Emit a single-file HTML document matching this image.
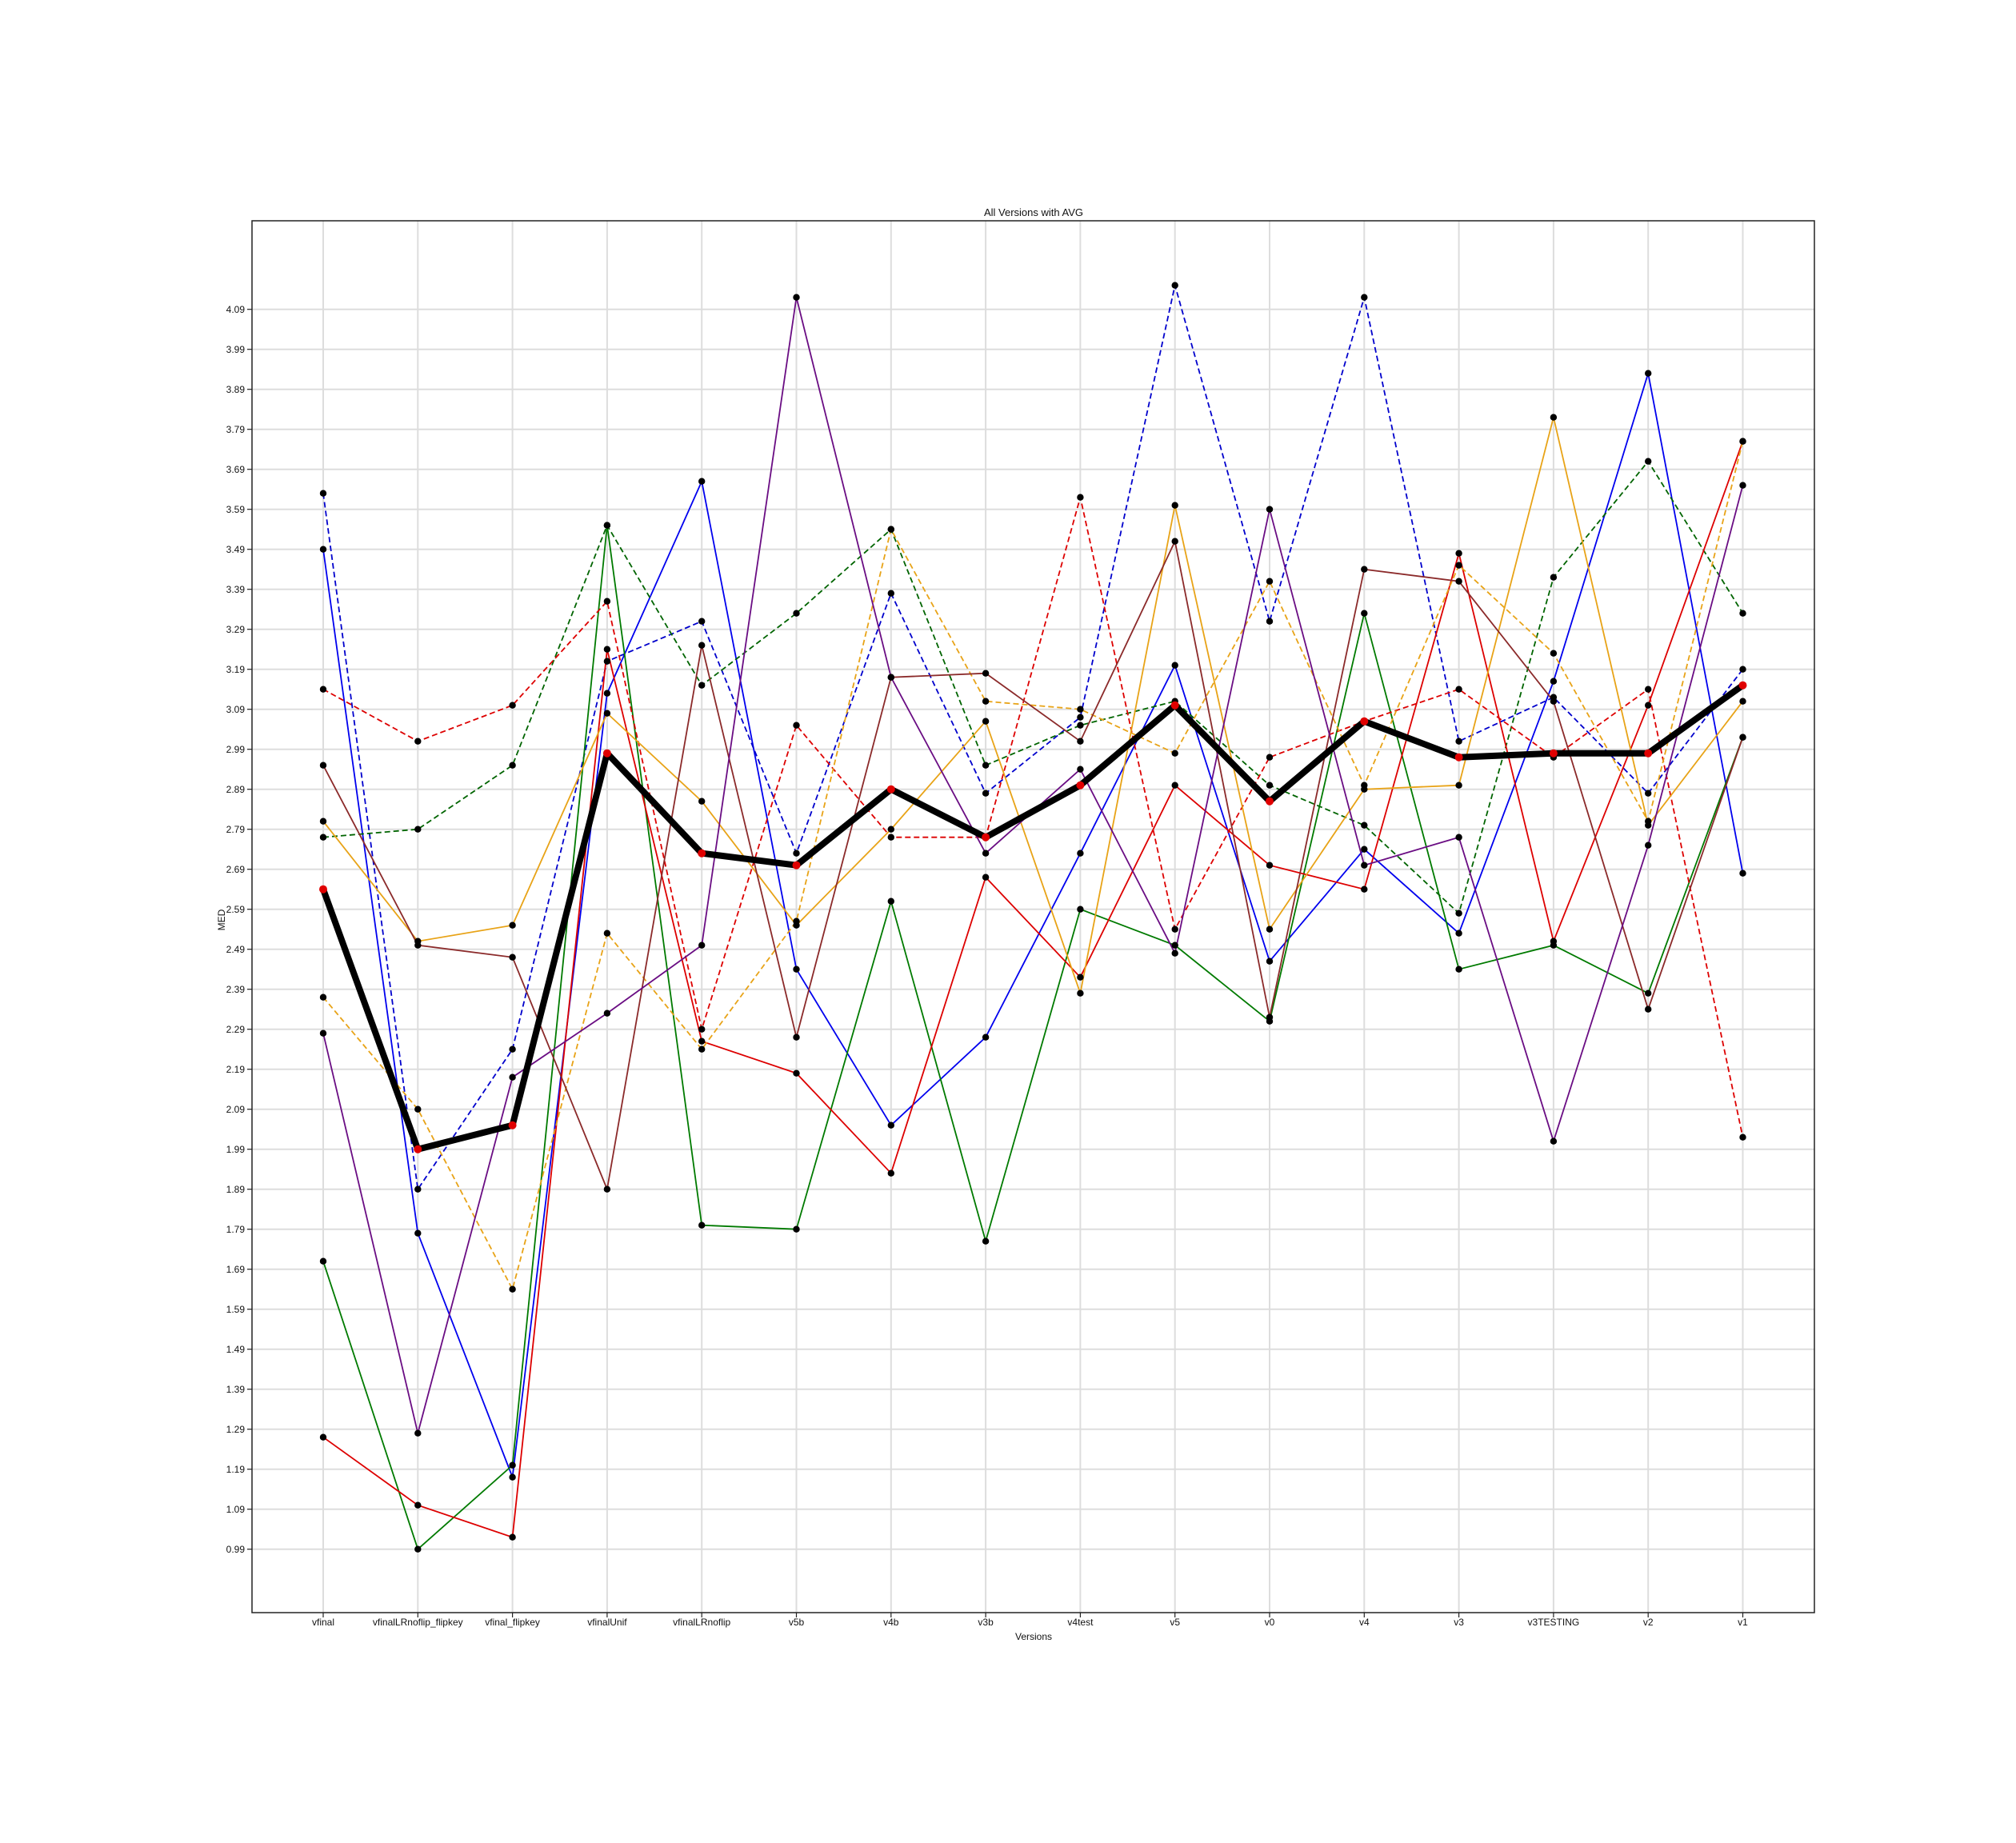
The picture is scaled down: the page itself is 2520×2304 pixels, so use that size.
<!DOCTYPE html>
<html><head><meta charset="utf-8"><style>
html,body{margin:0;padding:0;background:#fff;}
svg{display:block;font-family:"Liberation Sans","DejaVu Sans",sans-serif;}
</style></head><body>
<svg id="chart" width="2520" height="2304" viewBox="0 0 2520 2304" xmlns="http://www.w3.org/2000/svg">
<rect width="2520" height="2304" fill="#fff"/>
<g id="grid"></g>
<g id="series"></g>
<rect x="315" y="276" width="1953" height="1740" fill="none" stroke="#222" stroke-width="1.5"/>
<g id="ticks"></g>
<text x="1292" y="270" font-size="13" text-anchor="middle" fill="#111">All Versions with AVG</text>
<text x="1292" y="2050" font-size="12" text-anchor="middle" fill="#111">Versions</text>
<text x="281" y="1150" font-size="12" text-anchor="middle" fill="#111" transform="rotate(-90 281 1150)">MED</text>
</svg>
<script>
const categories=["vfinal","vfinalLRnoflip_flipkey","vfinal_flipkey","vfinalUnif","vfinalLRnoflip","v5b","v4b","v3b","v4test","v5","v0","v4","v3","v3TESTING","v2","v1"];
const yTicks=[0.99,1.09,1.19,1.29,1.39,1.49,1.59,1.69,1.79,1.89,1.99,2.09,2.19,2.29,2.39,2.49,2.59,2.69,2.79,2.89,2.99,3.09,3.19,3.29,3.39,3.49,3.59,3.69,3.79,3.89,3.99,4.09];
const blueSolid=[3.49,1.78,1.17,3.13,3.66,2.44,2.05,2.27,2.73,3.20,2.46,2.74,2.53,3.16,3.93,2.68];
const blueDashed=[3.63,1.89,2.24,3.21,3.31,2.73,3.38,2.88,3.07,4.15,3.31,4.12,3.01,3.12,2.88,3.19];
const greenSolid=[1.71,0.99,1.20,3.55,1.80,1.79,2.61,1.76,2.59,2.50,2.31,3.33,2.44,2.50,2.38,3.02];
const greenDashed=[2.77,2.79,2.95,3.55,3.15,3.33,3.54,2.95,3.05,3.11,2.90,2.80,2.58,3.42,3.71,3.33];
const redSolid=[1.27,1.10,1.02,3.24,2.26,2.18,1.93,2.67,2.42,2.90,2.70,2.64,3.48,2.51,3.10,3.76];
const redDashed=[3.14,3.01,3.10,3.36,2.29,3.05,2.77,2.77,3.62,2.54,2.97,3.06,3.14,2.97,3.14,2.02];
const orangeSolid=[2.81,2.51,2.55,3.08,2.86,2.55,2.79,3.06,2.38,3.60,2.54,2.89,2.90,3.82,2.80,3.11];
const orangeDashed=[2.37,2.09,1.64,2.53,2.24,2.56,3.54,3.11,3.09,2.98,3.41,2.90,3.45,3.23,2.81,3.76];
const brownSolid=[2.95,2.50,2.47,1.89,3.25,2.27,3.17,3.18,3.01,3.51,2.32,3.44,3.41,3.11,2.34,3.02];
const purpleSolid=[2.28,1.28,2.17,2.33,2.50,4.12,3.17,2.73,2.94,2.48,3.59,2.70,2.77,2.01,2.75,3.65];
const avgValues=[2.64,1.99,2.05,2.98,2.73,2.70,2.89,2.77,2.90,3.10,2.86,3.06,2.97,2.98,2.98,3.15];

const NS="http://www.w3.org/2000/svg";
const X0=404,STEP=118.3,YREF=386.7,PX=500;
function xs(i){return X0+i*STEP;}
function ys(v){return YREF+(4.09-v)*PX;}
function mk(tag,attrs,parent){const e=document.createElementNS(NS,tag);for(const k in attrs)e.setAttribute(k,attrs[k]);parent.appendChild(e);return e;}
const grid=document.getElementById('grid'),ticks=document.getElementById('ticks'),ser=document.getElementById('series');
yTicks.forEach(v=>{
  const y=ys(v);
  const g=mk('line',{x1:315,x2:2268,y1:y,y2:y,stroke:'#ddd','stroke-width':2},grid);
  
  
  const t=mk('line',{x1:309,x2:315,y1:y,y2:y,stroke:'#222','stroke-width':1.2},ticks);
  
  
  const l=mk('text',{x:306,y:y+4.5,'font-size':12,'text-anchor':'end',fill:'#111'},ticks);
  l.textContent=v.toFixed(2);
  
  
});
categories.forEach((c,i)=>{
  const x=xs(i);
  const g=mk('line',{x1:x,x2:x,y1:276,y2:2016,stroke:'#ddd','stroke-width':2},grid);
  
  
  const t=mk('line',{x1:x,x2:x,y1:2016,y2:2022,stroke:'#222','stroke-width':1.2},ticks);
  
  
  const l=mk('text',{x:x,y:2032,'font-size':12,'text-anchor':'middle',fill:'#111'},ticks);
  l.textContent=c;
  
  
});
const seriesList=[
 [blueSolid,'#0000ee',false,'blue-solid-series'],
 [blueDashed,'#0000cc',true,'blue-dashed-series'],
 [greenSolid,'#007a00',false,'green-solid-series'],
 [greenDashed,'#006400',true,'green-dashed-series'],
 [redSolid,'#dd0000',false,'red-solid-series'],
 [redDashed,'#dd0000',true,'red-dashed-series'],
 [orangeSolid,'#e8a317',false,'orange-solid-series'],
 [orangeDashed,'#e8a317',true,'orange-dashed-series'],
 [brownSolid,'#8b2a2a',false,'brown-solid-series'],
 [purpleSolid,'#6a0d83',false,'purple-solid-series']
];
seriesList.forEach(s=>{
  const pts=s[0].map((v,i)=>xs(i)+','+ys(v)).join(' ');
  const attrs={points:pts,fill:'none',stroke:s[1],'stroke-width':1.8};
  if(s[2])attrs['stroke-dasharray']='7,4';
  const pl=mk('polyline',attrs,ser);
  
  
});
seriesList.forEach(s=>{
  s[0].forEach((v,i)=>{
    const c=mk('circle',{cx:xs(i),cy:ys(v),r:4.2,fill:'#000'},ser);
    
    
  });
});
const avg=mk('polyline',{points:avgValues.map((v,i)=>xs(i)+','+ys(v)).join(' '),fill:'none',stroke:'#000','stroke-width':8,'stroke-linejoin':'round'},ser);


avgValues.forEach((v,i)=>{
  const c=mk('circle',{cx:xs(i),cy:ys(v),r:5,fill:'#e00000'},ser);
  
  
});
</script>
</body></html>
